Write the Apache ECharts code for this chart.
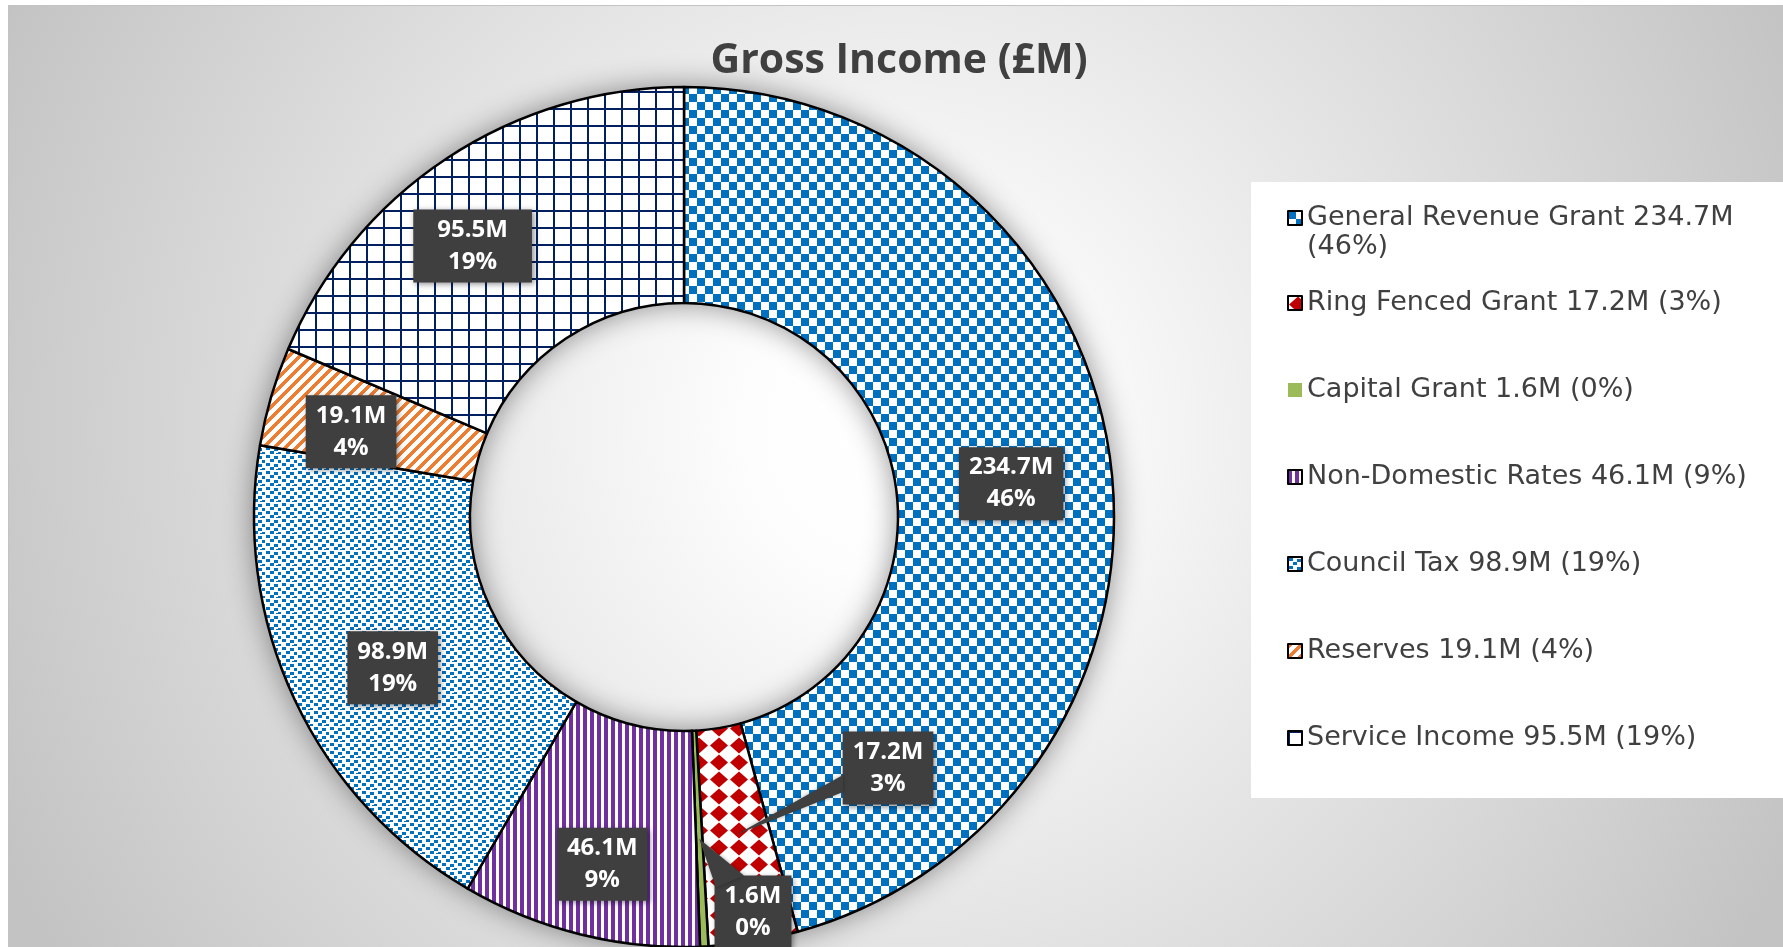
<!DOCTYPE html>
<html>
<head>
<meta charset="utf-8">
<title>Gross Income</title>
<script src="https://cdn.jsdelivr.net/npm/echarts@6/dist/echarts.min.js"></script>
<style>
  html, body { margin: 0; padding: 0; background: #fff; }
  #chart { position: absolute; left: 8px; top: 5px; width: 1774px; height: 941px;
           border-top: 1px solid #c3c3c3; border-left: 1px solid #c3c3c3; }
</style>
</head>
<body>
<div id="chart"></div>
<script>
// data
const titleText = 'Gross Income (£M)';
const categories = ['General Revenue Grant', 'Ring Fenced Grant', 'Capital Grant',
    'Non-Domestic Rates', 'Council Tax', 'Reserves', 'Service Income'];
const values = [234.7, 17.2, 1.6, 46.1, 98.9, 19.1, 95.5];
const unit = 'M';

const total = values.reduce((a, b) => a + b, 0);
const pct = v => Math.round(v / total * 100);

// ring geometry (px)
const CX = 675, CY = 511, R0 = 214, R1 = 430;

// small canvas tiles used as fill patterns (Excel-like hatches)
function tile(w, h, draw) {
    const c = document.createElement('canvas');
    c.width = w; c.height = h;
    const ctx = c.getContext('2d');
    ctx.fillStyle = '#fff';
    ctx.fillRect(0, 0, w, h);
    draw(ctx, w, h);
    return { image: c, repeat: 'repeat' };
}

const fills = [
    // checkerboard
    tile(16, 16, ctx => {
        ctx.fillStyle = '#0070C0';
        ctx.fillRect(0, 0, 8, 8);
        ctx.fillRect(8, 8, 8, 8);
    }),
    // red diamonds
    tile(20, 17, ctx => {
        ctx.fillStyle = '#C00000';
        ctx.beginPath();
        ctx.moveTo(10, 0.5); ctx.lineTo(19, 8.5); ctx.lineTo(10, 16.5); ctx.lineTo(1, 8.5);
        ctx.closePath();
        ctx.fill();
    }),
    // solid green
    '#9BBB59',
    // vertical stripes
    tile(7, 4, ctx => {
        ctx.fillStyle = '#7030A0';
        ctx.fillRect(0, 0, 4, 4);
    }),
    // small confetti
    tile(16, 16, ctx => {
        ctx.fillStyle = '#0070C0';
        [[1, 1], [9, 2], [5, 5], [13, 6], [1, 9], [9, 10], [5, 13], [13, 14], [11, 15]]
            .forEach(p => ctx.fillRect(p[0], p[1], 4, 3));
    }),
    // wide upward diagonal
    tile(11, 11, (ctx, w, h) => {
        ctx.fillStyle = '#ED7D31';
        for (let y = 0; y < h; y++) {
            for (let x = 0; x < w; x++) {
                if ((x + y) % 11 < 5) ctx.fillRect(x, y, 1, 1);
            }
        }
    }),
    // grid
    tile(17, 17, ctx => {
        ctx.fillStyle = '#002060';
        ctx.fillRect(0, 0, 2, 17);
        ctx.fillRect(0, 0, 17, 2);
    })
];

// labels moved out of their slice, with a callout pointer
const callouts = {
    1: { x: 879, y: 762, hw: 45, hh: 36.5, side: 'left' },
    2: { x: 744, y: 906, hw: 37, hh: 36.5, side: 'top' }
};
// small nudges for the labels left inside
const nudges = {
    0: { dx: 5, dy: 10 },
    3: { dx: -3, dy: 32 },
    4: { dx: 3, dy: 13 },
    5: { dx: -21, dy: 6 },
    6: { dx: -32, dy: 0 }
};

// middle of a slice, used as the tip of a callout
function sliceCentre(i) {
    let before = 0;
    for (let k = 0; k < i; k++) before += values[k];
    const a = -Math.PI / 2 + 2 * Math.PI * (before + values[i] / 2) / total;
    const rm = (R0 + R1) / 2;
    return [CX + rm * Math.cos(a), CY + rm * Math.sin(a)];
}

const pointers = Object.keys(callouts).map(k => {
    const c = callouts[k];
    const base = c.side === 'left'
        ? [[c.x - c.hw, c.y + 7], [c.x - c.hw, c.y + 24]]
        : [[c.x - c.hw, c.y - c.hh + 12], [c.x - c.hw + 28, c.y - c.hh]];
    return {
        type: 'polygon',
        z: 3,
        silent: true,
        shape: { points: [sliceCentre(+k), base[0], base[1]] },
        style: {
            fill: '#3f3f3f',
            shadowBlur: 4,
            shadowColor: 'rgba(0,0,0,0.35)'
        }
    };
});

const chart = echarts.init(document.getElementById('chart'));

const seriesData = categories.map((name, i) => {
    const item = {
        name: name,
        value: values[i],
        itemStyle: { color: fills[i] }
    };
    if (i === 6) {
        item.label = { padding: [5, 24, 4, 24] };
    }
    return item;
});

// plain colour swatches have no outline in the legend
const legendItems = categories.map((name, i) => (
    typeof fills[i] === 'string'
        ? { name: name, itemStyle: { borderWidth: 0 } }
        : { name: name }
));

const legendText = {
    fontFamily: 'DejaVu Sans',
    fontSize: 27,
    color: '#404040',
    lineHeight: 29,
    width: 450,
    overflow: 'break'
};
const legendLabel = name => {
    const i = categories.indexOf(name);
    return name + ' ' + values[i] + unit + ' (' + pct(values[i]) + '%)';
};

const option = {
    backgroundColor: {
        type: 'radial', x: 0.5, y: 0.45, r: 1.05,
        colorStops: [
            { offset: 0, color: '#ffffff' },
            { offset: 0.15, color: '#fdfdfd' },
            { offset: 1, color: '#c3c3c3' }
        ]
    },
    animation: false,
    title: {
        text: titleText,
        left: 890,
        top: 35,
        textAlign: 'center',
        padding: 0,
        textStyle: {
            fontFamily: 'Open Sans',
            fontWeight: 'bold',
            fontSize: 41,
            color: '#404040'
        }
    },
    graphic: [{
        // white legend panel
        type: 'rect',
        left: 1242,
        top: 176,
        z: 0,
        silent: true,
        shape: { width: 540, height: 616 },
        style: { fill: '#fff' }
    }].concat(pointers),
    legend: [
        {
            // first entry wraps onto two lines; the leading blank line
            // keeps its icon level with the first line of text
            orient: 'vertical',
            left: 1278,
            top: 168.5,
            padding: 0,
            data: legendItems.slice(0, 1),
            icon: 'rect',
            itemWidth: 14,
            itemHeight: 14,
            selectedMode: false,
            itemStyle: { borderColor: '#000', borderWidth: 2 },
            textStyle: legendText,
            formatter: name => '\n' + legendLabel(name)
        },
        {
            orient: 'vertical',
            left: 1278,
            top: 282.5,
            padding: 0,
            data: legendItems.slice(1),
            icon: 'rect',
            itemWidth: 14,
            itemHeight: 14,
            itemGap: 58,
            selectedMode: false,
            itemStyle: { borderColor: '#000', borderWidth: 2 },
            textStyle: legendText,
            formatter: legendLabel
        }
    ],
    series: [
        {
            // soft shadow behind the ring
            type: 'pie',
            silent: true,
            radius: [R0, R1],
            center: [CX, CY],
            label: { show: false },
            labelLine: { show: false },
            emphasis: { disabled: true },
            itemStyle: {
                color: '#fff',
                shadowBlur: 30,
                shadowColor: 'rgba(0,0,0,0.45)'
            },
            data: [{ name: '', value: total }]
        },
        {
            name: 'Gross Income',
            type: 'pie',
            radius: [R0, R1],
            center: [CX, CY],
            startAngle: 90,
            clockwise: true,
            avoidLabelOverlap: false,
            emphasis: { disabled: true },
            itemStyle: { borderColor: '#000', borderWidth: 2.5 },
            label: {
                position: 'inside',
                formatter: p => p.value + unit + '\n' + Math.round(p.percent) + '%',
                color: '#fff',
                fontFamily: 'Open Sans',
                fontWeight: 'bold',
                fontSize: 24,
                lineHeight: 32,
                backgroundColor: '#3f3f3f',
                padding: [5, 10, 4, 10],
                shadowBlur: 6,
                shadowColor: 'rgba(0,0,0,0.45)',
                shadowOffsetX: 2,
                shadowOffsetY: 2
            },
            labelLine: { show: false },
            labelLayout: params => {
                const i = params.dataIndex;
                const c = callouts[i];
                if (!c) return nudges[i] || {};
                return { x: c.x, y: c.y, align: 'center', verticalAlign: 'middle' };
            },
            data: seriesData
        }
    ]
};

chart.setOption(option);

window.addEventListener('resize', () => {
    chart.resize();
});
</script>
</body>
</html>
